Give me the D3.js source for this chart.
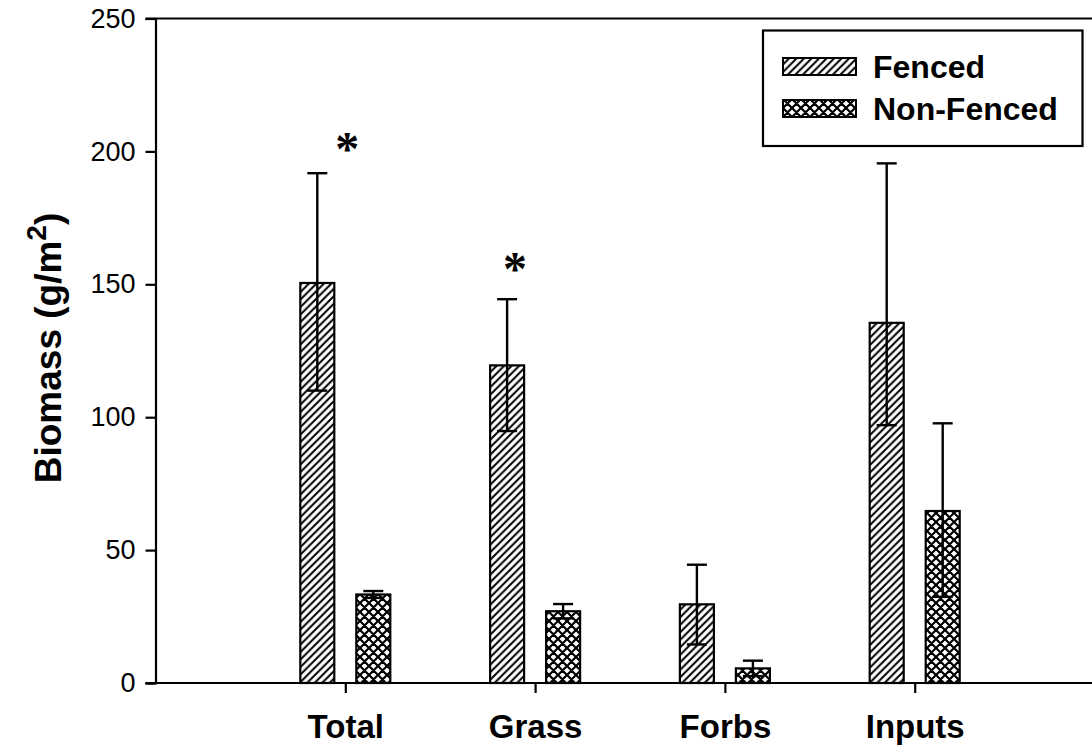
<!DOCTYPE html>
<html>
<head>
<meta charset="utf-8">
<script src="https://cdn.jsdelivr.net/npm/d3@7"></script>
<style>
  html, body { margin: 0; padding: 0; background: #fff; }
  svg { display: block; }
  text { font-family: "Liberation Sans", Arial, sans-serif; fill: #000; }
</style>
</head>
<body>
<svg id="chart" width="1092" height="749"></svg>
<script>
// Biomass by plant group, fenced vs non-fenced plots (mean ± error)
const categories = ["Total", "Grass", "Forbs", "Inputs"];
const seriesNames = ["Fenced", "Non-Fenced"];
const fencedMean  = [150.5, 119.5, 29.6, 135.5];
const fencedLow   = [110.0,  94.8, 14.5,  97.0];
const fencedHigh  = [191.8, 144.4, 44.5, 195.5];
const nonFencedMean = [33.3, 27.0, 5.5, 64.7];
const nonFencedLow  = [32.0, 24.3, 2.6, 32.4];
const nonFencedHigh = [34.6, 29.7, 8.4, 97.7];
const yTicks = [0, 50, 100, 150, 200, 250];
// significance markers: category and height (g/m²) of the asterisk
const sigMarks = [
  { cat: "Total", value: 203, dx: 2 },
  { cat: "Grass", value: 158, dx: -20 }
];

const svg = d3.select("#chart");

const y = d3.scaleLinear().domain([0, 250]).range([683, 18.5]);
const x = d3.scaleLinear().domain([0, 5]).range([155.5, 155.5 + 5 * 189.8]);
const catPos = c => x(categories.indexOf(c) + 1);

const barW = 34, barOff = 28, capW = 20;

// hatch patterns
const defs = svg.append("defs");
const diag = defs.append("pattern")
  .attr("id", "hatchDiag").attr("patternUnits", "userSpaceOnUse")
  .attr("width", 7.5).attr("height", 7.5);
diag.append("path")
  .attr("d", "M-1,1 l2,-2 M0,7.5 l7.5,-7.5 M6.5,8.5 l2,-2")
  .attr("stroke", "#000").attr("stroke-width", 2);

const cross = defs.append("pattern")
  .attr("id", "hatchCross").attr("patternUnits", "userSpaceOnUse")
  .attr("width", 9).attr("height", 9);
cross.append("path")
  .attr("d", "M-1,1 l2,-2 M0,9 l9,-9 M8,10 l2,-2 M-1,8 l2,2 M0,0 l9,9 M8,-1 l2,2")
  .attr("stroke", "#000").attr("stroke-width", 2.2);

const series = [
  { name: seriesNames[0], mean: fencedMean, low: fencedLow, high: fencedHigh, off: -barOff, fill: "url(#hatchDiag)" },
  { name: seriesNames[1], mean: nonFencedMean, low: nonFencedLow, high: nonFencedHigh, off: barOff, fill: "url(#hatchCross)" }
];

// bars
series.forEach(s => {
  const g = svg.append("g");
  g.selectAll("rect.b").data(categories).join("rect")
    .attr("class", "b")
    .attr("x", (c) => catPos(c) + s.off - barW / 2)
    .attr("y", (c, i) => y(s.mean[i]))
    .attr("width", barW)
    .attr("height", (c, i) => y(0) - y(s.mean[i]))
    .attr("fill", "#fff");
  g.selectAll("rect.h").data(categories).join("rect")
    .attr("class", "h")
    .attr("x", (c) => catPos(c) + s.off - barW / 2)
    .attr("y", (c, i) => y(s.mean[i]))
    .attr("width", barW)
    .attr("height", (c, i) => y(0) - y(s.mean[i]))
    .attr("fill", s.fill)
    .attr("stroke", "#000").attr("stroke-width", 2.2);
});

// error bars
series.forEach(s => {
  const g = svg.append("g").attr("stroke", "#000").attr("stroke-width", 2.4);
  categories.forEach((c, i) => {
    const cx = catPos(c) + s.off;
    g.append("line").attr("x1", cx).attr("x2", cx)
      .attr("y1", y(s.low[i])).attr("y2", y(s.high[i]));
    [s.low[i], s.high[i]].forEach(v => {
      g.append("line").attr("x1", cx - capW / 2).attr("x2", cx + capW / 2)
        .attr("y1", y(v)).attr("y2", y(v));
    });
  });
});

// y axis
const yAxis = svg.append("g")
  .attr("transform", `translate(${x(0)},0)`)
  .call(d3.axisLeft(y).tickValues(yTicks).tickSize(10).tickPadding(10).tickFormat(d3.format("d")));
yAxis.select(".domain").attr("stroke-width", 2.2);
yAxis.selectAll(".tick line").attr("stroke-width", 2.2);
yAxis.selectAll(".tick text").attr("font-size", 27).attr("font-family", "Liberation Sans, Arial, sans-serif");

// x axis
const xAxis = svg.append("g")
  .attr("transform", `translate(0,${y(0)})`)
  .call(d3.axisBottom(x).tickValues([1, 2, 3, 4]).tickSize(10).tickSizeOuter(0)
    .tickFormat(d => categories[d - 1]).tickPadding(22));
xAxis.select(".domain").attr("stroke-width", 2.2).attr("d", `M${x(0) - 10},0H${x(5)}`);
xAxis.selectAll(".tick line").attr("stroke-width", 2.2);
xAxis.selectAll(".tick text").attr("font-size", 33).attr("font-weight", "bold")
  .attr("font-family", "Liberation Sans, Arial, sans-serif");

// top frame line
svg.append("line").attr("x1", x(0) - 10).attr("x2", x(5))
  .attr("y1", y(250)).attr("y2", y(250))
  .attr("stroke", "#000").attr("stroke-width", 2.2);

// y axis title
const yt = svg.append("text")
  .attr("transform", `translate(61,348) rotate(-90)`)
  .attr("text-anchor", "middle")
  .attr("font-size", 37).attr("font-weight", "bold");
yt.append("tspan").text("Biomass (g/m");
yt.append("tspan").text("2").attr("font-size", 28).attr("dy", -15);
yt.append("tspan").text(")").attr("dy", 15);

// significance asterisks
svg.selectAll("text.sig").data(sigMarks).join("text")
  .attr("class", "sig")
  .attr("x", d => catPos(d.cat) + d.dx)
  .attr("y", d => y(d.value))
  .attr("dy", 22)
  .attr("text-anchor", "middle")
  .attr("font-size", 48)
  .attr("font-weight", "bold")
  .style("font-family", "Liberation Serif, serif")
  .text("*");

// legend
const lg = svg.append("g");
lg.append("rect").attr("x", 763).attr("y", 30.5).attr("width", 319.5).attr("height", 115.5)
  .attr("fill", "#fff").attr("stroke", "#000").attr("stroke-width", 2.2);
series.forEach((s, i) => {
  const yy = 58 + i * 42;
  lg.append("rect").attr("x", 783).attr("y", yy).attr("width", 73).attr("height", 17)
    .attr("fill", "#fff");
  lg.append("rect").attr("x", 783).attr("y", yy).attr("width", 73).attr("height", 17)
    .attr("fill", s.fill).attr("stroke", "#000").attr("stroke-width", 2);
  lg.append("text").attr("x", 873).attr("y", yy + 20)
    .attr("font-size", 32).attr("font-weight", "bold").text(s.name);
});
</script>
</body>
</html>
